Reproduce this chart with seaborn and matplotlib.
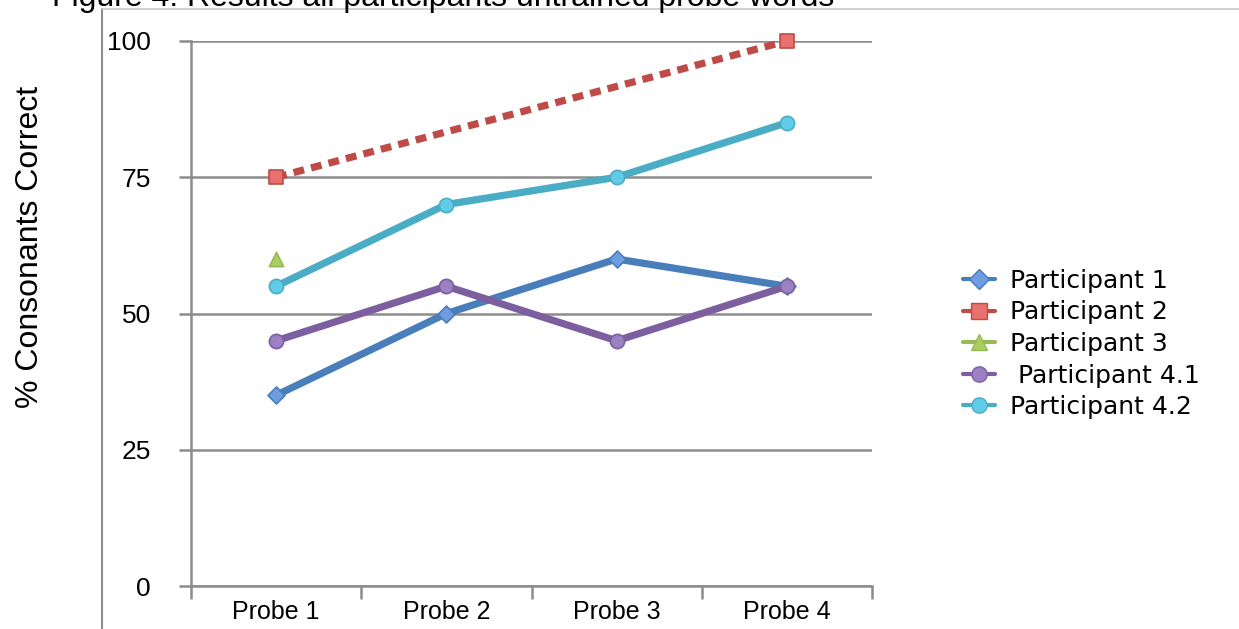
import numpy as np
import pandas as pd
import matplotlib
matplotlib.use("Agg")
import matplotlib.pyplot as plt
from matplotlib.lines import Line2D
import seaborn as sns

# === data ===
probes = ["Probe 1", "Probe 2", "Probe 3", "Probe 4"]
participants = ["Participant 1", "Participant 2", "Participant 3",
                "Participant 4.1", "Participant 4.2"]
p1 = [35, 50, 60, 55]
p2 = [75, np.nan, np.nan, 100]
p3 = [60, np.nan, np.nan, np.nan]
p41 = [45, 55, 45, 55]
p42 = [55, 70, 75, 85]
y_ticks = [0, 25, 50, 75, 100]

# style per series: line colour, marker fill, marker
line_cols = ["#4A7EBB", "#BE4B48", "#98B954", "#7D5FA0", "#4BACC6"]
fill_cols = ["#6F9BE0", "#E8706D", "#A9CE62", "#9B80C2", "#62CBE8"]
markers = ["D", "s", "^", "o", "o"]
dashes = ["", (1.5, 1.0), "", "", ""]

# long table, missing points dropped so the dashed line joins probe 1 and 4
rows = []
for name, vals in zip(participants, [p1, p2, p3, p41, p42]):
    for i, v in enumerate(vals):
        rows.append({"Participant": name, "pos": i, "Probe": probes[i], "Value": v})
df = pd.DataFrame(rows).dropna()

sns.set_style("white")
plt.rcParams["font.family"] = ["Liberation Sans", "DejaVu Sans"]
plt.rcParams["text.color"] = "black"
plt.rcParams["xtick.color"] = "black"
plt.rcParams["ytick.color"] = "black"

fig = plt.figure(figsize=(12.39, 6.29), dpi=100)
ax = fig.add_axes([191 / 1239, 1 - 586 / 629, (872 - 191) / 1239, (586 - 41) / 629])

for k, name in enumerate(participants):
    sub = df[df["Participant"] == name]
    if len(sub) > 1:
        sns.lineplot(data=sub, x="pos", y="Value", ax=ax, color=line_cols[k],
                     lw=5.2, legend=False, zorder=3,
                     linestyle="-" if dashes[k] == "" else (0, dashes[k]))
    ax.scatter(sub["pos"], sub["Value"], marker=markers[k], s=105 if markers[k] != "D" else 75,
               facecolor=fill_cols[k], edgecolor=line_cols[k], linewidth=1.2,
               zorder=4, clip_on=False)

ax.set_xlim(-0.5, 3.5)
ax.set_ylim(0, 100)
ax.set_yticks(y_ticks)
ax.set_yticklabels([str(t) for t in y_ticks], fontsize=19)
ax.yaxis.grid(True, color="#8C8C8C", lw=1.8)
ax.set_axisbelow(True)

# category labels between boundary tick marks
ax.set_xticks([-0.5, 0.5, 1.5, 2.5, 3.5])
ax.set_xticklabels([])
ax.set_xticks(range(len(probes)), minor=True)
ax.set_xticklabels(probes, minor=True, fontsize=18)
ax.tick_params(axis="x", which="major", direction="out", length=9, width=1.8,
               color="#8C8C8C", bottom=True)
ax.tick_params(axis="x", which="minor", length=0, pad=10)
ax.tick_params(axis="y", direction="out", length=9, width=1.8, color="#8C8C8C",
               left=True, pad=20)
ax.set_xlabel("")
ax.set_ylabel("")

for s in ["top", "right"]:
    ax.spines[s].set_visible(False)
for s in ["left", "bottom"]:
    ax.spines[s].set_color("#8C8C8C")
    ax.spines[s].set_linewidth(1.8)

fig.text(30 / 1239, 1 - 247 / 629, "% Consonants Correct", rotation=90,
         ha="center", va="center", fontsize=23)

# cut-off title at the top of the screenshot
fig.text(52 / 1239, 1 - 6 / 629, "Figure 4: Results all participants untrained probe words",
         ha="left", va="baseline", fontsize=23)

# chart frame
fig.add_artist(Line2D([102 / 1239, 102 / 1239], [0, 1 - 9 / 629],
                      color="#8C8C8C", lw=1.5, transform=fig.transFigure))
fig.add_artist(Line2D([102 / 1239, 1], [1 - 9 / 629, 1 - 9 / 629],
                      color="#C8C8C8", lw=1.2, transform=fig.transFigure))

# legend
handles = []
for k, name in enumerate(participants):
    handles.append(Line2D([], [], color=line_cols[k], lw=3,
                          marker=markers[k], markersize=11 if markers[k] != "D" else 10,
                          markerfacecolor=fill_cols[k], markeredgecolor=line_cols[k]))
labels = ["Participant 1", "Participant 2", "Participant 3",
          " Participant 4.1", "Participant 4.2"]
fig.legend(handles, labels, loc="center left", bbox_to_anchor=(940 / 1239, 1 - 344 / 629),
           frameon=False, prop={"family": "DejaVu Sans", "size": 18},
           handlelength=1.3, handletextpad=0.6, labelspacing=0.3)

fig.savefig("out.png", dpi=100)
